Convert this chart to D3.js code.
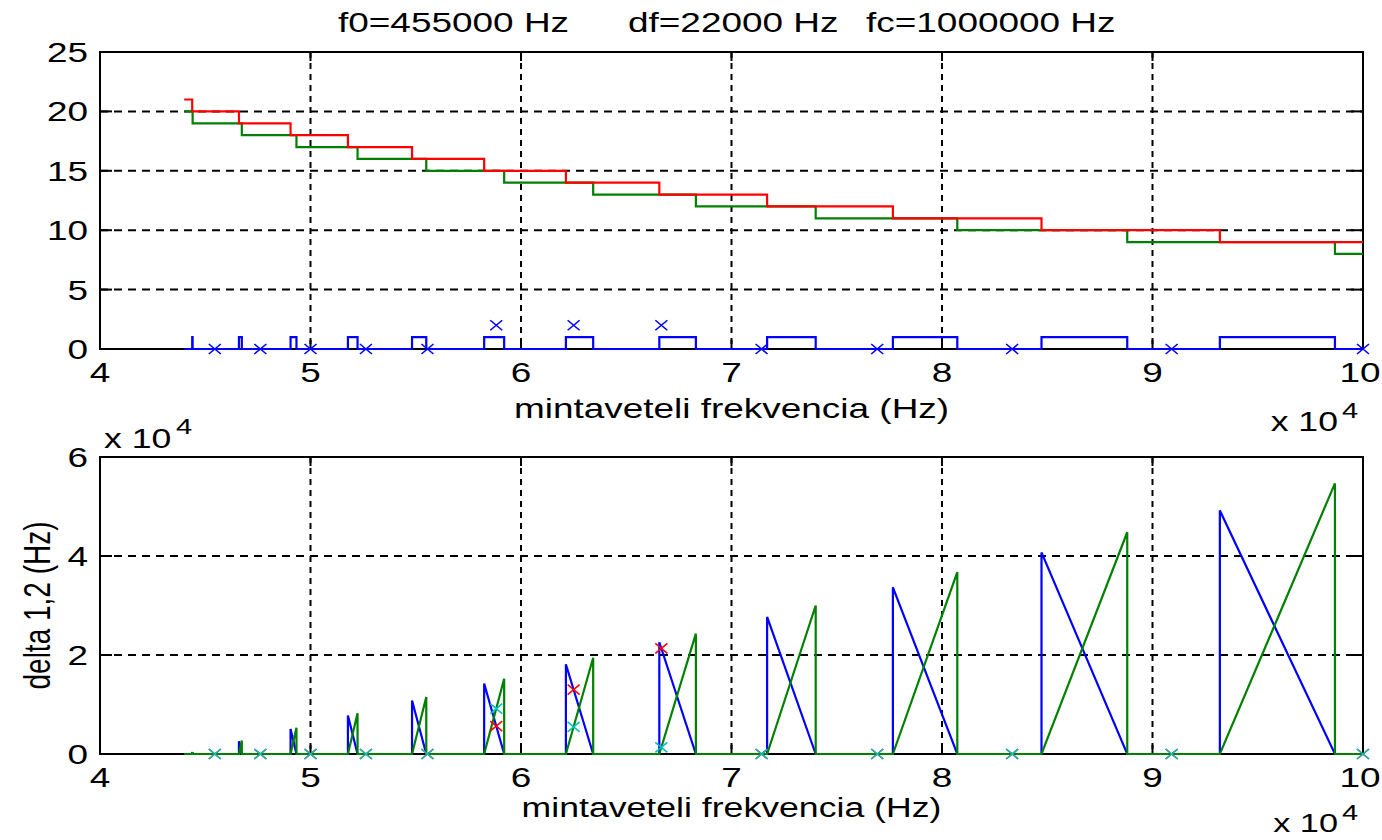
<!DOCTYPE html>
<html><head><meta charset="utf-8">
<script src="https://cdn.jsdelivr.net/npm/d3@7"></script>
<style>html,body{margin:0;padding:0;background:#fff;}svg{display:block;}</style>
</head><body>
<svg id="c" width="1382" height="840"></svg>
<script>
// ---------------- data ----------------
const xTicks = [40000, 50000, 60000, 70000, 80000, 90000, 100000];
const xTickLabels = ["4", "5", "6", "7", "8", "9", "10"];
const topYTicks = [0, 5, 10, 15, 20, 25];
const topYTickLabels = ["0", "5", "10", "15", "20", "25"];
const botYTicks = [0, 20000, 40000, 60000];
const botYTickLabels = ["0", "2", "4", "6"];

// top plot: red and green step curves (break frequencies and levels)
const redBreaks = [44000, 44381, 46600, 49053, 51778, 54824, 58250, 62133, 66571, 71692, 77667, 84727, 93200, 100000];
const redLevels = [21, 20, 19, 18, 17, 16, 15, 14, 13, 12, 11, 10, 9];
const greenBreaks = [44000, 44400, 46737, 49333, 52235, 55500, 59200, 63429, 68308, 74000, 80727, 88800, 98667, 100000];
const greenLevels = [20, 19, 18, 17, 16, 15, 14, 13, 12, 11, 10, 9, 8];

// valid sampling regions (blue = 1 in top plot), with delta peaks for bottom plot
const regionStart = [44381, 46600, 49053, 51778, 54824, 58250, 62133, 66571, 71692, 77667, 84727, 93200];
const regionEnd   = [44400, 46737, 49333, 52235, 55500, 59200, 63429, 68308, 74000, 80727, 88800, 98667];
const delta1Peak  = [380, 2600, 5046, 7774, 10816, 14250, 18138, 22577, 27696, 33663, 40730, 49200];
const delta2Peak  = [400, 2740, 5327, 8230, 11500, 15200, 19435, 24312, 30000, 36724, 44800, 54670];
const fsStart = 44000, fsEnd = 100000;

// markers at fc/k
const markerFs   = [45455, 47619, 50000, 52632, 55556, 58824, 62500, 66667, 71429, 76923, 83333, 90909, 100000];
const topMarkerY = [0, 0, 0, 0, 0, 2, 2, 2, 0, 0, 0, 0, 0];
const botRedY    = [0, 0, 0, 0, 0, 5647, 13000, 21333, 0, 0, 0, 0, 0];
const botCyanY   = [0, 0, 0, 0, 0, 9176, 5500, 1333, 0, 0, 0, 0, 0];

(function () {
// ---------------- layout ----------------
const svg = d3.select("#c");
const SX = 1.32, FS = 28, FONT = "'Liberation Sans', Arial, sans-serif";
const L = 100, R = 1363;
const pTop = {t: 52, b: 349}, pBot = {t: 457, b: 754};
const x = d3.scaleLinear().domain([40000, 100000]).range([L, R]);
const yT = d3.scaleLinear().domain([0, 25]).range([pTop.b, pTop.t]);
const yB = d3.scaleLinear().domain([0, 60000]).range([pBot.b, pBot.t]);
const COL = {red: "#ff0000", green: "#008000", blue: "#0000ff", cyan: "#00bfbf"};

function txt(x0, y0, s, anchor = "middle", size = FS, rot = false) {
  return svg.append("text")
    .attr("transform", `translate(${x0},${y0}) scale(${SX},1)` + (rot ? " rotate(-90)" : ""))
    .attr("text-anchor", anchor)
    .attr("font-family", FONT).attr("font-size", size).attr("fill", "#000")
    .text(s);
}

function axesFrame(y, yTicks, yLabels, p) {
  const g = svg.append("g");
  xTicks.slice(1, -1).forEach(v => {
    g.append("line").attr("x1", x(v)).attr("x2", x(v)).attr("y1", p.t).attr("y2", p.b)
      .attr("stroke", "#000").attr("stroke-width", 2).attr("stroke-dasharray", "6,5");
  });
  yTicks.slice(1, -1).forEach(v => {
    g.append("line").attr("x1", L).attr("x2", R).attr("y1", y(v)).attr("y2", y(v))
      .attr("stroke", "#000").attr("stroke-width", 2).attr("stroke-dasharray", "8,6");
  });
  xTicks.forEach(v => {
    g.append("line").attr("x1", x(v)).attr("x2", x(v)).attr("y1", p.b).attr("y2", p.b - 9).attr("stroke", "#000").attr("stroke-width", 2);
    g.append("line").attr("x1", x(v)).attr("x2", x(v)).attr("y1", p.t).attr("y2", p.t + 9).attr("stroke", "#000").attr("stroke-width", 2);
  });
  yTicks.forEach(v => {
    g.append("line").attr("x1", L).attr("x2", L + 12).attr("y1", y(v)).attr("y2", y(v)).attr("stroke", "#000").attr("stroke-width", 2);
    g.append("line").attr("x1", R).attr("x2", R - 12).attr("y1", y(v)).attr("y2", y(v)).attr("stroke", "#000").attr("stroke-width", 2);
  });
  g.append("rect").attr("x", L).attr("y", p.t).attr("width", R - L).attr("height", p.b - p.t)
    .attr("fill", "none").attr("stroke", "#000").attr("stroke-width", 2);
  xTicks.forEach((v, i) => txt(Math.min(x(v), 1360), p.b + 33, xTickLabels[i]));
  yTicks.forEach((v, i) => txt(88, y(v) + 10, yLabels[i], "end"));
}

axesFrame(yT, topYTicks, topYTickLabels, pTop);
axesFrame(yB, botYTicks, botYTickLabels, pBot);

const line = (y) => d3.line().x(d => x(d[0])).y(d => y(d[1]));
function stepPts(breaks, levels) {
  const pts = [];
  levels.forEach((lv, i) => { pts.push([breaks[i], lv]); pts.push([breaks[i + 1], lv]); });
  return pts;
}
function draw(pts, y, color) {
  svg.append("path").datum(pts).attr("d", line(y)).attr("fill", "none")
    .attr("stroke", color).attr("stroke-width", 2.2).attr("stroke-linejoin", "miter");
}
function cross(cx, cy, color) {
  const s = 6, h = 5;
  svg.append("path").attr("d", `M${cx - s},${cy - h}L${cx + s},${cy + h}M${cx - s},${cy + h}L${cx + s},${cy - h}`)
    .attr("stroke", color).attr("stroke-width", 1.6).attr("fill", "none");
}

// ---- top plot ----
draw(stepPts(greenBreaks, greenLevels), yT, COL.green);
draw(stepPts(redBreaks, redLevels), yT, COL.red);
const bluePts = [[fsStart, 0]];
regionStart.forEach((s, i) => { bluePts.push([s, 0], [s, 1], [regionEnd[i], 1], [regionEnd[i], 0]); });
bluePts.push([fsEnd, 0]);
draw(bluePts, yT, COL.blue);
markerFs.forEach((f, i) => cross(x(f), yT(topMarkerY[i]), COL.blue));

// ---- bottom plot ----
const d1 = [[fsStart, 0]], d2 = [[fsStart, 0]];
regionStart.forEach((s, i) => {
  d1.push([s, 0], [s, delta1Peak[i]], [regionEnd[i], 0]);
  d2.push([s, 0], [regionEnd[i], delta2Peak[i]], [regionEnd[i], 0]);
});
d1.push([fsEnd, 0]); d2.push([fsEnd, 0]);
draw(d1, yB, COL.blue);
draw(d2, yB, COL.green);
markerFs.forEach((f, i) => cross(x(f), yB(botRedY[i]), COL.red));
markerFs.forEach((f, i) => cross(x(f), yB(botCyanY[i]), COL.cyan));

// ---- texts ----
txt(338, 32, "f0=455000 Hz", "start");
txt(628, 32, "df=22000 Hz", "start");
txt(866, 32, "fc=1000000 Hz", "start");
txt((L + R) / 2, 418, "mintaveteli frekvencia (Hz)");
txt((L + R) / 2, 817, "mintaveteli frekvencia (Hz)", "middle", 27);
txt(1338, 431, "x 10", "end", 27);
txt(1342, 418, "4", "start", 22);
txt(1338, 832, "x 10", "end", 26);
txt(1342, 820, "4", "start", 22);
txt(104, 448, "x 10", "start", 27);
txt(176, 434, "4", "start", 22);
txt(50, (pBot.t + pBot.b) / 2, "delta 1,2 (Hz)", "middle", FS, true);
})();
</script>
</body></html>
